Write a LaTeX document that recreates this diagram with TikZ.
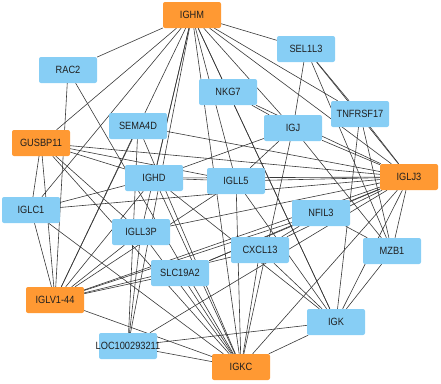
\documentclass[tikz,border=0pt]{standalone}
\usepackage{fontspec}
\setmainfont{Liberation Sans}[FakeStretch=0.88]
\usetikzlibrary{backgrounds}
\definecolor{geneblue}{RGB}{135,206,245}
\definecolor{huborange}{RGB}{255,153,51}
\tikzset{
  gene/.style={rectangle, rounded corners=2pt, fill=geneblue, minimum width=58pt,
    minimum height=26pt, inner sep=0pt, text=black!88,
    font=\fontsize{10.5}{12}\selectfont},
  hub/.style={gene, fill=huborange},
  link/.style={draw=black!78, line width=0.6pt}
}
\begin{document}
\begin{tikzpicture}[x=1pt,y=-1pt]
\useasboundingbox (0,0) rectangle (441,383);
% orange hubs
\node[hub] (ighm) at (192,15) {IGHM};
\node[hub] (gus) at (41,143) {GUSBP11};
\node[hub] (lj3) at (409,177) {IGLJ3};
\node[hub] (lv) at (55,300) {IGLV1-44};
\node[hub] (igkc) at (241,367) {IGKC};
% blue genes
\node[gene] (rac2) at (68,70) {RAC2};
\node[gene] (sel) at (306,49) {SEL1L3};
\node[gene] (nkg) at (228,92) {NKG7};
\node[gene] (tnf) at (360,114) {TNFRSF17};
\node[gene] (sema) at (138,126) {SEMA4D};
\node[gene] (igj) at (293,128) {IGJ};
\node[gene] (ighd) at (154,178) {IGHD};
\node[gene] (ll5) at (236,181) {IGLL5};
\node[gene] (lc1) at (31,210) {IGLC1};
\node[gene] (nfil) at (321,213) {NFIL3};
\node[gene] (ll3p) at (141,232) {IGLL3P};
\node[gene] (cxcl) at (260,250) {CXCL13};
\node[gene] (mzb) at (392,251) {MZB1};
\node[gene] (slc) at (180,273) {SLC19A2};
\node[gene] (igk) at (336,322) {IGK};
\node[gene] (loc) at (128,346) {\makebox[0pt]{LOC100293211}};
% links
\begin{scope}[on background layer]
\foreach \a/\b in {ighm/rac2, ighm/gus, ighm/lc1, ighm/lv, ighm/ighd, ighm/ll3p,
    ighm/loc, ighm/igkc, ighm/ll5, ighm/igk, ighm/nkg, ighm/igj, ighm/sel,
    ighm/tnf, ighm/lj3,
    sel/igj, sel/tnf, sel/mzb, sel/lj3,
    tnf/lj3, tnf/mzb, tnf/igk,
    nkg/igj, nkg/lj3, nkg/igk,
    igj/lj3, igj/mzb, igj/ll5, igj/ighd, igj/igkc,
    rac2/lv, rac2/igkc,
    sema/lv, sema/lj3, sema/igkc, sema/loc,
    gus/lj3, gus/ll5, gus/ighd, gus/lc1, gus/lv, gus/ll3p, gus/igkc,
    lc1/lv, lc1/igkc, lc1/ighd, lc1/lj3,
    ighd/ll5, ighd/lj3, ighd/igkc, ighd/lv, ighd/igk,
    ll5/lj3, ll5/igkc, ll5/igk, ll5/lv,
    lv/lj3, lv/nfil, lv/cxcl, lv/slc, lv/igkc,
    ll3p/loc, ll3p/igkc, ll3p/lj3, ll3p/lv,
    slc/igkc, slc/nfil, slc/lj3,
    cxcl/igkc, cxcl/igk, cxcl/nfil, cxcl/lj3,
    nfil/mzb, nfil/lj3,
    mzb/lj3, mzb/igk,
    lj3/igk, lj3/igkc, lj3/loc,
    loc/igkc, loc/igk,
    igk/igkc}
  \draw[link] (\a) -- (\b);
\end{scope}
\end{tikzpicture}
\end{document}
